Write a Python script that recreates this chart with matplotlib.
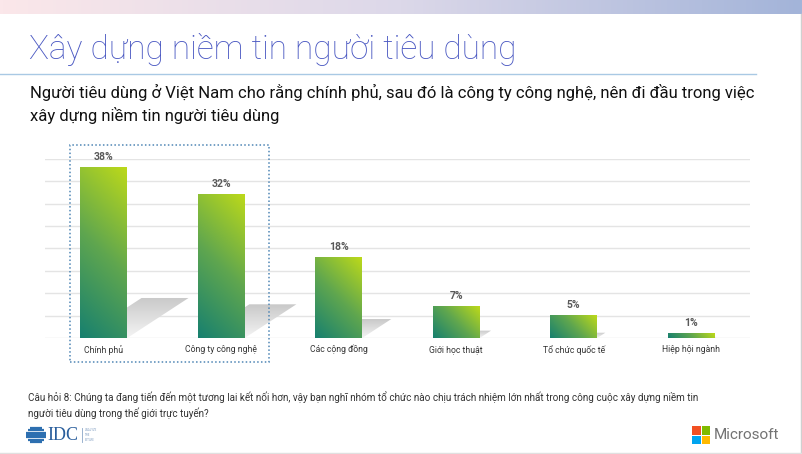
import matplotlib
matplotlib.use("Agg")
import matplotlib.pyplot as plt
import numpy as np
from matplotlib.colors import LinearSegmentedColormap
from matplotlib.patches import Polygon, Rectangle

plt.rcParams["font.family"] = ["Roboto", "DejaVu Sans"]

W, H = 802, 454

categories = ["Chính phủ", "Công ty công nghệ", "Các cộng đồng",
              "Giới học thuật", "Tổ chức quốc tế", "Hiệp hội ngành"]
values = [38, 32, 18, 7, 5, 1]
value_labels = ["38%", "32%", "18%", "7%", "5%", "1%"]

title = "Xây dựng niềm tin người tiêu dùng"
subtitle = ("Người tiêu dùng ở Việt Nam cho rằng chính phủ, sau đó là công ty công nghệ, nên đi đầu trong việc\n"
            "xây dựng niềm tin người tiêu dùng")
footnote = ("Câu hỏi 8: Chúng ta đang tiến đến một tương lai kết nối hơn, vậy bạn nghĩ nhóm tổ chức nào chịu trách nhiệm lớn nhất trong công cuộc xây dựng niềm tin\n"
            "người tiêu dùng trong thế giới trực tuyến?")

bar_cmap = LinearSegmentedColormap.from_list("bar", ["#17806f", "#5fa64f", "#bcd91a"])


def fx(x):
    return x / W


def fy(y):
    return 1 - y / H


fig = plt.figure(figsize=(W / 100, H / 100), dpi=100)

# top band
band = fig.add_axes([0, fy(14), 1, 14 / H])
band.imshow(np.linspace(0, 1, 256)[None, :], aspect="auto",
            cmap=LinearSegmentedColormap.from_list("band", ["#fbe7ea", "#dcd8e9", "#a3b4d9"]),
            extent=[0, 1, 0, 1])
band.axis("off")

fig.text(fx(29), fy(50), title, fontsize=24, color="#4a58c2", fontweight="light",
         va="center", ha="left")
fig.add_artist(plt.Line2D([0, fx(756)], [fy(73.5), fy(73.5)], color="#a9c9e4", lw=1))
fig.text(fx(30), fy(104), subtitle, fontsize=12, color="#111111", va="center", ha="left",
         linespacing=1.45)

# chart area
ax_top, ax_bot, ax_l, ax_r = 158.8, 338, 45, 750
ax = fig.add_axes([fx(ax_l), fy(ax_bot), (ax_r - ax_l) / W, (ax_bot - ax_top) / H])
ax.set_xlim(-0.5, 5.5)
ax.set_ylim(0, 40)
for s in ax.spines.values():
    s.set_visible(False)
ax.set_xticks([])
ax.set_yticks(np.arange(0, 41, 5))
ax.tick_params(left=False, labelleft=False)
ax.grid(axis="y", color="#e4e4e4", lw=1)
ax.set_axisbelow(True)

px_x = (ax_r - ax_l) / 6.0
px_y = (ax_bot - ax_top) / 40.0
bw = 0.4
shadow_cmap = LinearSegmentedColormap.from_list("sh", ["#f4f4f4", "#c9c9c9"])
for i, v in enumerate(values):
    x0, x1 = i - bw / 2, i + bw / 2
    # soft shadow
    dx = 0.36 * v * px_y / px_x
    dy = 0.235 * v
    poly = Polygon([(x0, 0), (x1, 0), (x1 + dx, dy), (x0 + dx, dy)],
                   closed=True, fc="none", ec="none")
    ax.add_patch(poly)
    sy = np.linspace(0, 1, 50)[:, None] * np.ones((1, 10))
    im = ax.imshow(sy, cmap=shadow_cmap, origin="lower", aspect="auto",
                   extent=[x0, x1 + dx, 0, dy], zorder=2, vmin=0, vmax=1)
    im.set_clip_path(poly)
    # gradient bar
    wpx, hpx = bw * px_x, v * px_y
    gx, gy = np.meshgrid(np.linspace(0, wpx, 60), np.linspace(0, hpx, 120))
    t = (gx + gy) / (wpx + hpx)
    ax.imshow(t, cmap=bar_cmap, origin="lower", aspect="auto",
              extent=[x0, x1, 0, v], interpolation="bilinear", zorder=3, vmin=0, vmax=1)
    ax.text(i, v + 1.2, value_labels[i], ha="center", va="bottom", fontsize=7.5,
            fontweight="bold", color="#595959", zorder=4)
    ax.text(i, -2.6, categories[i], ha="center", va="center", fontsize=6.2,
            color="#333333")
ax.set_xlim(-0.5, 5.5)
ax.set_ylim(0, 40)

ax.add_patch(Rectangle((-0.287, -5.3), 1.69, 48.4, fill=False, ec="#4f86b5",
                       lw=1.1, ls=(0, (1, 1.5)), clip_on=False, zorder=5))

fig.text(fx(28), fy(405), footnote, fontsize=7.1, color="#333333", va="center",
         ha="left", linespacing=1.45)

# IDC logo
logo = fig.add_axes([fx(26), fy(444), 20 / W, 18 / H])
logo.set_xlim(-1, 1)
logo.set_ylim(-1, 1)
logo.axis("off")
for k, yy in enumerate(np.linspace(-0.8, 0.8, 7)):
    half = np.sqrt(max(1 - yy ** 2, 0))
    logo.plot([-half, half], [yy, yy], color="#2d6fb0", lw=1.6, solid_capstyle="butt")
fig.text(fx(47), fy(435), "IDC", family=["Liberation Serif", "DejaVu Serif"], fontsize=13,
         color="#2a5e9c", va="center", ha="left")
fig.add_artist(plt.Line2D([fx(82), fx(82)], [fy(428), fy(442)], color="#8aa6c8", lw=0.6))
fig.text(fx(85), fy(435), "ANALYZE\nTHE\nFUTURE", fontsize=2, color="#7f9cc0",
         va="center", ha="left", linespacing=1.2)

# Microsoft logo
sq = 8.5
gap = 1
for (cx, cy, c) in [(692, 426, "#f25022"), (692 + sq + gap, 426, "#7fba00"),
                    (692, 426 + sq + gap, "#00a4ef"), (692 + sq + gap, 426 + sq + gap, "#ffb900")]:
    fig.add_artist(Rectangle((fx(cx), fy(cy + sq)), sq / W, sq / H, fc=c, ec="none",
                             transform=fig.transFigure))
fig.text(fx(714), fy(435), "Microsoft", fontsize=11, color="#737373", va="center", ha="left")

# slide borders
fig.add_artist(plt.Line2D([fx(800.5), fx(800.5)], [0, fy(14)], color="#d0d0d0", lw=1))
fig.add_artist(plt.Line2D([0, 1], [fy(452.5), fy(452.5)], color="#e0e0e0", lw=1))

fig.savefig("out.png", dpi=100)
